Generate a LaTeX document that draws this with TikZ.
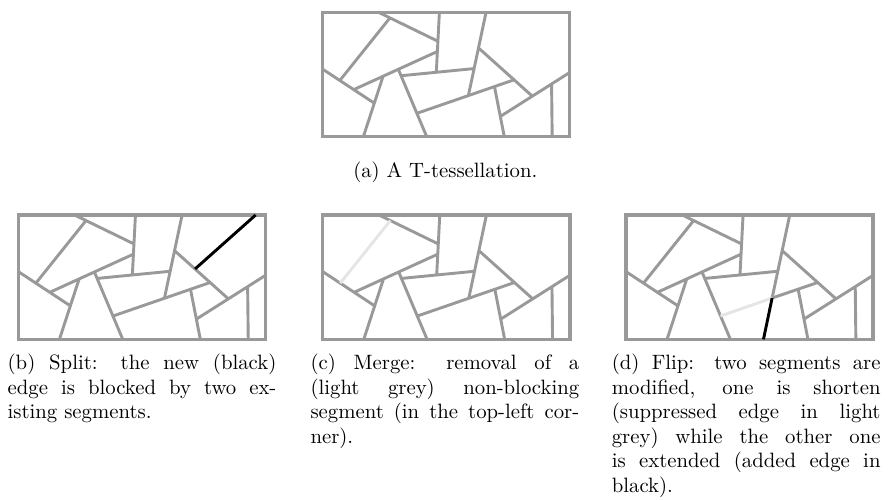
\documentclass[tikz,border=0pt]{standalone}
\usepackage{tikz}
\usetikzlibrary{positioning}

\tikzset{
  seg/.style={draw=black!40, line width=1.5pt},
  removed/.style={draw=black!10, line width=1.5pt},
  added/.style={draw=black, line width=1.5pt},
  border/.style={draw=black!40, line width=1.8pt},
  capfont/.style={font=\fontsize{10.7}{12.6}\selectfont},
  subcap/.style={capfont, text width=4.87cm, align=justify, inner sep=0pt,
    anchor=base west, execute at begin node={\tolerance=10000\relax}}
}

% points of the T-tessellation, in a 8 x 4 box
\newcommand{\tesspoints}{%
  \coordinate (a1) at (1.82,4);    \coordinate (a2) at (3.74,3.07);
  \coordinate (b1) at (3.79,4);    \coordinate (b2) at (3.69,2.07);
  \coordinate (c1) at (2.19,3.82); \coordinate (c2) at (0.57,1.81);
  \coordinate (d1) at (0,2.18);    \coordinate (d2) at (1.68,1.08);
  \coordinate (e1) at (1.97,1.95); \coordinate (e2) at (1.33,0);
  \coordinate (f1) at (1.01,1.51); \coordinate (f2) at (3.725,2.74);
  \coordinate (g1) at (2.46,2.17); \coordinate (g2) at (3.38,0);
  \coordinate (h1) at (2.55,1.96); \coordinate (h2) at (4.91,2.19);
  \coordinate (i1) at (5.30,4);    \coordinate (i2) at (4.73,1.33);
  \coordinate (j1) at (3.06,0.75); \coordinate (j2) at (6.21,1.83);
  \coordinate (k1) at (5.06,2.85); \coordinate (k2) at (6.80,1.30);
  \coordinate (l1) at (5.76,0.65); \coordinate (l2) at (8,2.06);
  \coordinate (m1) at (5.57,1.62); \coordinate (m2) at (5.89,0);
  \coordinate (n1) at (7.42,1.69); \coordinate (n2) at (7.44,0);
}
% all segments but c and j
\newcommand{\tessedges}{%
  \draw[seg] (a1) -- (a2) (b1) -- (b2) (d1) -- (d2) (e1) -- (e2)
    (f1) -- (f2) (g1) -- (g2) (h1) -- (h2) (i1) -- (i2)
    (k1) -- (k2) (l1) -- (l2) (m1) -- (m2) (n1) -- (n2);
}

\begin{document}
\begin{tikzpicture}
  \useasboundingbox (0,0) rectangle (16.11,9.06);

  % (a) the tessellation
  \begin{scope}[shift={(5.84cm,6.583cm)}, x=0.56cm, y=0.5635cm]
    \tesspoints
    \tessedges
    \draw[seg] (c1) -- (c2) (j1) -- (j2);
    \draw[border] (0,0) rectangle (8,4);
  \end{scope}
  \node[capfont, anchor=base] (capa) at (8.07,5.835) {(a) A T-tessellation.};

  % (b) split
  \begin{scope}[shift={(0.332cm,2.91cm)}, x=0.56cm, y=0.5635cm]
    \tesspoints
    \coordinate (s1) at (5.72,2.265);
    \coordinate (s2) at (7.68,4);
    \tessedges
    \draw[seg] (c1) -- (c2) (j1) -- (j2);
    \draw[border] (0,0) rectangle (8,4);
    \draw[added] (s1) -- (s2);
  \end{scope}
  \node[subcap] (capb) at (0.132,2.356)
    {(b) Split: the new (black)\linebreak edge is blocked by two ex-\linebreak isting segments.};

  % (c) merge
  \begin{scope}[shift={(5.847cm,2.91cm)}, x=0.56cm, y=0.5635cm]
    \tesspoints
    \tessedges
    \draw[seg] (j1) -- (j2);
    \draw[removed] (c1) -- (c2);
    \draw[border] (0,0) rectangle (8,4);
  \end{scope}
  \node[subcap] (capc) at (5.62,2.356)
    {(c) Merge: removal of a\linebreak (light grey) non-blocking\linebreak segment (in the top-left cor-\linebreak ner).};

  % (d) flip
  \begin{scope}[shift={(11.343cm,2.91cm)}, x=0.56cm, y=0.5635cm]
    \tesspoints
    \coordinate (t2) at (4.45,0);
    \tessedges
    \draw[seg] (c1) -- (c2) (i2) -- (j2);
    \draw[removed] (j1) -- (i2);
    \draw[border] (0,0) rectangle (8,4);
    \draw[added] (i2) -- (t2);
  \end{scope}
  \node[subcap] (capd) at (11.08,2.356)
    {(d) Flip: two segments are\linebreak modified, one is shorten\linebreak (suppressed edge in light\linebreak grey) while the other one\linebreak is extended (added edge in\linebreak black).};
\end{tikzpicture}
\end{document}
